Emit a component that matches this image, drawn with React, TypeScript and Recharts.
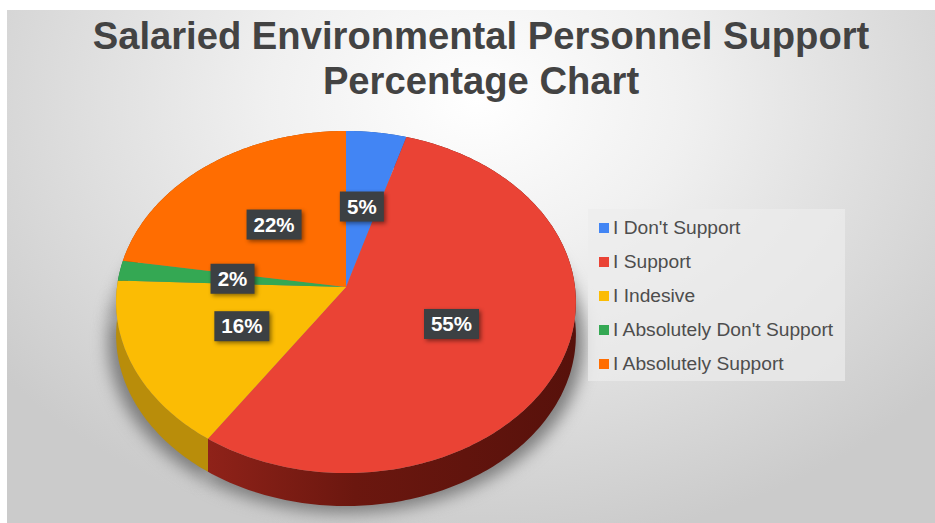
import { PieChart, Pie, Cell, Legend } from 'recharts';

const categories = ["I Don't Support", 'I Support', 'I Indesive', "I Absolutely Don't Support", 'I Absolutely Support'];
const shares = [4.6, 54.6, 16.1, 1.9, 22.4];
const colors = ['#4285f4', '#ea4335', '#fbbc04', '#34a853', '#ff6d01'];
const wallColors = ['#2a5599', 'url(#redWall)', '#b98d0a', '#1f6b34', '#a84600'];
const titleLines = ['Salaried Environmental Personnel Support', 'Percentage Chart'];

const data = categories.map((name, i) => ({ name, value: shares[i] }));

const WIDTH = 928;
const HEIGHT = 513;
// chart margin of 5 is added on top of these
const CX = 334;
const CY = 272;
const WALL = 33;
// tilted disc: radii of the projected circle and the perspective strength
const RX = 229;
const RY = 169.7;
const PERSP = 0.0877;

function project(cx: number, cy: number, angle: number, r: number) {
  const rad = (angle * Math.PI) / 180;
  const u = Math.cos(rad) * r;
  const v = -Math.sin(rad) * r;
  const d = 1 - PERSP * v;
  return { x: cx + (RX * u) / d, y: cy + (RY * v) / d };
}

function arcPoints(cx: number, cy: number, start: number, end: number) {
  const steps = Math.max(2, Math.ceil(Math.abs(end - start)));
  const pts = [];
  for (let i = 0; i <= steps; i++) {
    pts.push(project(cx, cy, start + ((end - start) * i) / steps, 1));
  }
  return pts;
}

const toPath = (pts: { x: number; y: number }[]) =>
  pts.map((p, i) => `${i === 0 ? 'M' : 'L'}${p.x.toFixed(1)},${p.y.toFixed(1)}`).join(' ') + ' Z';

function TopFace(props: any) {
  const { cx, cy, startAngle, endAngle, fill } = props;
  const pts = [{ x: cx, y: cy }, ...arcPoints(cx, cy, startAngle, endAngle)];
  return <path d={toPath(pts)} fill={fill} />;
}

function SideWall(props: any) {
  const { cx, cy, startAngle, endAngle, fill } = props;
  const arc = arcPoints(cx, cy, startAngle, endAngle);
  const lower = [...arc].reverse().map((p) => ({ x: p.x, y: p.y + WALL }));
  return <path d={toPath([...arc, ...lower])} fill={fill} />;
}

function Shadow(props: any) {
  const { cx, cy, startAngle, endAngle } = props;
  const arc = arcPoints(cx, cy, startAngle, endAngle).map((p) => ({
    x: cx + (p.x - cx) * 1.035,
    y: p.y + WALL + 7,
  }));
  return <path d={toPath([{ x: cx, y: cy + WALL }, ...arc])} fill="#7d7d7d" style={{ filter: 'blur(8px)' }} />;
}

function PercentLabel(props: any) {
  const { cx, cy, midAngle, value } = props;
  const p = project(cx, cy, midAngle, 0.5);
  const w = Number(value) < 10 ? 44 : 55;
  return (
    <g>
      <rect
        x={p.x - w / 2}
        y={p.y - 15}
        width={w}
        height={30}
        fill="#3c4043"
        style={{ filter: 'drop-shadow(2px 2px 2px rgba(0,0,0,0.45))' }}
      />
      <text
        x={p.x}
        y={p.y + 7}
        textAnchor="middle"
        fill="#ffffff"
        fontFamily="Liberation Sans"
        fontWeight="bold"
        fontSize={20.5}
      >
        {Number(value).toFixed(0)}%
      </text>
    </g>
  );
}

function LegendBox({ payload }: any) {
  const items = (payload || []).filter((item: any) => item.type !== 'none');
  return (
    <div style={{ width: 257, height: 172, background: 'rgba(236,236,236,0.7)', paddingTop: 2, boxSizing: 'border-box' }}>
      {items.map((item: any) => (
        <div key={item.value} style={{ height: 34, display: 'flex', alignItems: 'center', paddingLeft: 11 }}>
          <span style={{ width: 10, height: 10, background: item.color, marginRight: 4 }} />
          <span style={{ fontFamily: 'Liberation Sans', fontSize: 19.2, color: '#4d4d4d', whiteSpace: 'nowrap' }}>
            {item.value}
          </span>
        </div>
      ))}
    </div>
  );
}

export default function App() {
  return (
    <div
      style={{
        position: 'absolute',
        left: 7,
        top: 10,
        width: WIDTH,
        height: HEIGHT,
        overflow: 'hidden',
        background: 'radial-gradient(ellipse 600px 450px at 470px 90px, #ffffff 0%, #f0f0f0 35%, #d8d8d8 77%, #cbcbcb 100%)',
      }}
    >
      <div
        style={{
          position: 'absolute',
          left: 0,
          top: 3,
          width: 948,
          textAlign: 'center',
          fontFamily: 'Liberation Sans',
          fontWeight: 'bold',
          fontSize: 38.2,
          lineHeight: '45px',
          color: '#434343',
        }}
      >
        {titleLines.map((line) => (
          <div key={line}>{line}</div>
        ))}
      </div>
      <PieChart width={WIDTH} height={HEIGHT} style={{ position: 'absolute', left: 0, top: 0 }}>
        <defs>
          <linearGradient id="redWall" x1="0" y1="0" x2="1" y2="0">
            <stop offset="0%" stopColor="#8f2219" />
            <stop offset="40%" stopColor="#6b170f" />
            <stop offset="100%" stopColor="#57110b" />
          </linearGradient>
        </defs>
        <Pie
          data={data}
          dataKey="value"
          cx={CX}
          cy={CY}
          outerRadius={200}
          startAngle={90}
          endAngle={-270}
          stroke="none"
          legendType="none"
          shape={Shadow}
          isAnimationActive={false}
        />
        <Pie
          data={data}
          dataKey="value"
          cx={CX}
          cy={CY}
          outerRadius={200}
          startAngle={90}
          endAngle={-270}
          stroke="none"
          legendType="none"
          shape={SideWall}
          isAnimationActive={false}
        >
          {wallColors.map((c) => (
            <Cell key={c} fill={c} />
          ))}
        </Pie>
        <Pie
          data={data}
          dataKey="value"
          nameKey="name"
          cx={CX}
          cy={CY}
          outerRadius={200}
          startAngle={90}
          endAngle={-270}
          stroke="none"
          shape={TopFace}
          label={PercentLabel}
          labelLine={false}
          isAnimationActive={false}
        >
          {colors.map((c) => (
            <Cell key={c} fill={c} />
          ))}
        </Pie>
        <Legend
          layout="vertical"
          align="center"
          verticalAlign="middle"
          itemSorter={null}
          wrapperStyle={{ left: 581, top: 199, width: 257 }}
          content={LegendBox}
        />
      </PieChart>
    </div>
  );
}
